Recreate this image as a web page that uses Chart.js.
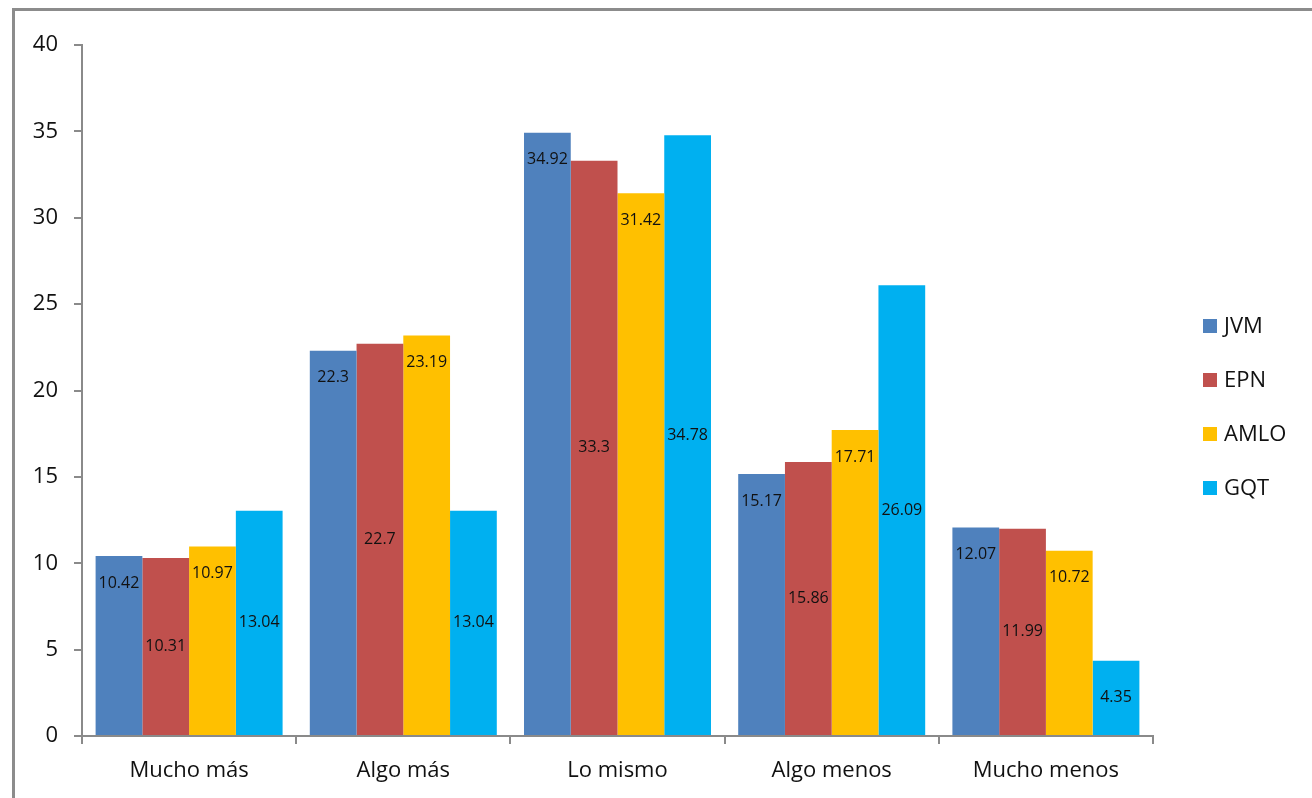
<!DOCTYPE html>
<html>
<head>
<meta charset="utf-8">
<script src="https://cdn.jsdelivr.net/npm/chart.js@4"></script>
<style>
  html, body { margin: 0; padding: 0; background: #fff; overflow: hidden; }
  #frame {
    position: absolute; left: 12px; top: 8px; width: 1400px; height: 900px;
    border-left: 3px solid #8c8c8c; border-top: 3px solid #8c8c8c;
  }
  #wrap { position: absolute; left: 0; top: 0; width: 1312px; height: 798px; }
</style>
</head>
<body>
<div id="frame"></div>
<div id="wrap"><canvas id="chart" width="1312" height="798"></canvas></div>
<script>
// --- 데이터 ---
const categories = ["Mucho más", "Algo más", "Lo mismo", "Algo menos", "Mucho menos"];
const seriesNames = ["JVM", "EPN", "AMLO", "GQT"];
const jvm = [10.42, 22.3, 34.92, 15.17, 12.07];
const epn = [10.31, 22.7, 33.3, 15.86, 11.99];
const amlo = [10.97, 23.19, 31.42, 17.71, 10.72];
const gqt = [13.04, 13.04, 34.78, 26.09, 4.35];
const yTicks = [0, 5, 10, 15, 20, 25, 30, 35, 40];

const colors = ["#4F81BD", "#C0504D", "#FFC000", "#00B0F0"];
const labelPlace = ["end", "center", "end", "center"]; // 라벨 위치 (엑셀 스타일)
const axisColor = "#8a8a8a";
const textColor = "#111";
const fontFamily = "'Open Sans', 'DejaVu Sans', sans-serif";

// --- 값 라벨 그리기 ---
const valueLabels = {
  id: "valueLabels",
  afterDatasetsDraw(chart) {
    const ctx = chart.ctx;
    ctx.save();
    ctx.font = "16px " + fontFamily;
    ctx.fillStyle = textColor;
    ctx.textAlign = "center";
    ctx.textBaseline = "middle";
    chart.data.datasets.forEach((ds, i) => {
      const meta = chart.getDatasetMeta(i);
      meta.data.forEach((bar, j) => {
        const y = labelPlace[i] === "end" ? bar.y + 27 : (bar.y + bar.base) / 2;
        ctx.fillText(String(ds.data[j]), bar.x, y);
      });
    });
    ctx.restore();
  },
};

// --- 범례 (오른쪽) ---
const sideLegend = {
  id: "sideLegend",
  afterDraw(chart) {
    const ctx = chart.ctx;
    const x = chart.chartArea.right + 50;
    const y0 = 327;
    const gap = 54;
    ctx.save();
    ctx.font = "22px " + fontFamily;
    ctx.textBaseline = "middle";
    ctx.textAlign = "left";
    chart.data.datasets.forEach((ds, i) => {
      const y = y0 + i * gap;
      ctx.fillStyle = ds.backgroundColor;
      ctx.fillRect(x, y - 8, 14, 14);
      ctx.fillStyle = textColor;
      ctx.fillText(ds.label, x + 21, y);
    });
    ctx.restore();
  },
};

const allSeries = [jvm, epn, amlo, gqt];

new Chart(document.getElementById("chart"), {
  type: "bar",
  data: {
    labels: categories,
    datasets: allSeries.map((d, i) => ({
      label: seriesNames[i],
      data: d,
      backgroundColor: colors[i],
      borderWidth: 0,
      categoryPercentage: 0.873,
      barPercentage: 1,
    })),
  },
  options: {
    responsive: false,
    animation: false,
    layout: { padding: { top: 45, right: 159, left: 0, bottom: 0 } },
    plugins: { legend: { display: false }, tooltip: { enabled: false } },
    scales: {
      x: {
        offset: true,
        grid: {
          offset: true,
          drawOnChartArea: false,
          tickLength: 8,
          color: axisColor,
          lineWidth: 2,
        },
        border: { color: axisColor, width: 2 },
        ticks: {
          color: textColor,
          font: { family: fontFamily, size: 22 },
          padding: 14,
          maxRotation: 0,
        },
        afterFit(scale) { scale.height = 62; },
      },
      y: {
        min: 0,
        max: 40,
        afterBuildTicks(scale) { scale.ticks = yTicks.map((v) => ({ value: v })); },
        grid: {
          drawOnChartArea: false,
          tickLength: 8,
          color: axisColor,
          lineWidth: 2,
        },
        border: { color: axisColor, width: 2 },
        ticks: {
          color: textColor,
          font: { family: fontFamily, size: 22 },
          padding: 16,
        },
        afterFit(scale) { scale.width = 82; },
      },
    },
  },
  plugins: [valueLabels, sideLegend],
});
</script>
</body>
</html>
